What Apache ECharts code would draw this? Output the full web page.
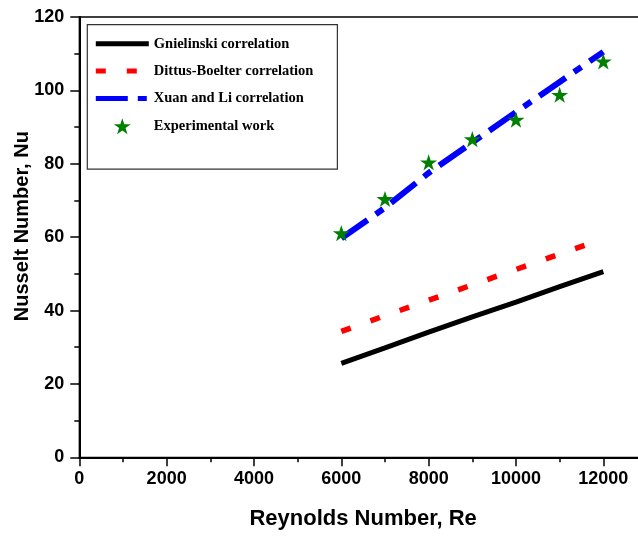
<!DOCTYPE html>
<html>
<head>
<meta charset="utf-8">
<script src="https://cdn.jsdelivr.net/npm/echarts@6/dist/echarts.min.js"></script>
<style>
html,body{margin:0;padding:0;background:#fff;overflow:hidden;width:638px;height:536px;}
#chart{width:647px;height:536px;}
</style>
</head>
<body>
<div id="chart"></div>
<script>
const reynolds = [6000, 7000, 8000, 9000, 10000, 11000, 12000];
const gnielinski = [25.6, 29.8, 34.1, 38.3, 42.3, 46.5, 50.6];
const dittusBoelter = [34.3, 38.6, 42.8, 47.0, 51.2, 55.4, 59.5];
const xuanLi = [59.7, 68.0, 77.5, 85.8, 94.1, 102.3, 110.5];
const experimental = [61.1, 70.4, 80.4, 86.7, 92.0, 98.8, 107.9];
const seriesNames = ['Gnielinski correlation', 'Dittus-Boelter correlation', 'Xuan and Li correlation', 'Experimental work'];
const xTitle = 'Reynolds Number, Re';
const yTitle = 'Nusselt Number, Nu';

const STAR = 'path://M12,0 L14.70,8.29 L23.41,8.29 L16.37,13.42 L19.05,21.71 L12,16.59 L4.95,21.71 L7.63,13.42 L0.59,8.29 L9.30,8.29 Z';
const pairs = (ys) => reynolds.map((x, i) => [x, ys[i]]);

const chart = echarts.init(document.getElementById('chart'), null, {renderer: 'canvas'});
const axisFont = {fontFamily: 'Liberation Sans, Arial, sans-serif', fontWeight: 'bold', color: '#000'};
const hideSym = {color: 'rgba(0,0,0,0)', borderWidth: 0, opacity: 0};

chart.setOption({
  animation: false,
  backgroundColor: '#fff',
  grid: {left: 79.3, right: 0, top: 17, bottom: 78.7, containLabel: false, outerBoundsMode: 'none',
         show: true, borderColor: '#000', borderWidth: 1.3, backgroundColor: 'transparent'},
  xAxis: [{
    type: 'value', min: 0, max: 13000, interval: 2000, position: 'bottom',
    name: xTitle, nameLocation: 'middle', nameGap: 51, nameMoveOverlap: false,
    nameTextStyle: Object.assign({fontSize: 22}, axisFont),
    axisLine: {show: true, onZero: false, lineStyle: {color: '#000', width: 2}},
    axisTick: {show: true, inside: false, length: 9, lineStyle: {color: '#000', width: 1.5}},
    axisLabel: Object.assign({fontSize: 18, margin: 13, showMaxLabel: false, formatter: (v) => String(v)}, axisFont),
    splitLine: {show: false}
  }, {
    type: 'value', min: 0, max: 13000, interval: 1000, position: 'bottom',
    axisLine: {show: false, onZero: false},
    axisTick: {show: true, inside: false, length: 5, lineStyle: {color: '#000', width: 1.5}},
    axisLabel: {show: false},
    splitLine: {show: false}
  }],
  yAxis: {
    type: 'value', min: 0, max: 120, interval: 20,
    name: yTitle, nameLocation: 'middle', nameGap: 47, nameRotate: 90, nameMoveOverlap: false,
    nameTextStyle: Object.assign({fontSize: 20, padding: [0, 0, 0, 22]}, axisFont),
    axisLine: {show: true, onZero: false, lineStyle: {color: '#000', width: 2}},
    axisTick: {show: true, inside: false, length: 9, lineStyle: {color: '#000', width: 1.5}},
    minorTick: {show: true, splitNumber: 2, length: 5, lineStyle: {color: '#000', width: 1.5}},
    axisLabel: Object.assign({fontSize: 18, margin: 15, formatter: (v) => String(v)}, axisFont),
    splitLine: {show: false}
  },
  legend: {
    left: 87.3, top: 24.7, orient: 'vertical',
    itemWidth: 53, itemHeight: 16, itemGap: 12.3, itemTextGap: 2,
    padding: [11.6, 24, 35, 6],
    borderColor: '#333', borderWidth: 1.2, backgroundColor: '#fff',
    textStyle: {fontFamily: 'Liberation Serif, Times New Roman, serif', fontWeight: 'bold', fontSize: 14.5, color: '#000'},
    data: [
      {name: seriesNames[0], lineStyle: {width: 5}, itemStyle: hideSym},
      {name: seriesNames[1], lineStyle: {width: 5}, itemStyle: hideSym},
      {name: seriesNames[2], lineStyle: {width: 5}, itemStyle: hideSym},
      {name: seriesNames[3]}
    ]
  },
  series: [
    {
      name: seriesNames[0], type: 'line', data: pairs(gnielinski), symbol: 'none',
      lineStyle: {color: '#000', width: 5, type: 'solid'}, itemStyle: {color: '#000'}
    },
    {
      name: seriesNames[1], type: 'line', data: pairs(dittusBoelter), symbol: 'none',
      lineStyle: {color: '#ff0000', width: 5.5, type: [10, 21], cap: 'butt'}, itemStyle: {color: '#ff0000'}
    },
    {
      name: seriesNames[2], type: 'line', data: pairs(xuanLi), symbol: 'none',
      lineStyle: {color: '#0000ff', width: 6, type: [32, 10, 9, 10], cap: 'butt'}, itemStyle: {color: '#0000ff'}
    },
    {
      name: seriesNames[3], type: 'scatter', data: pairs(experimental),
      symbol: STAR, symbolSize: 17, symbolKeepAspect: true,
      itemStyle: {color: '#008000', opacity: 1}, z: 5
    }
  ]
});
</script>
</body>
</html>
